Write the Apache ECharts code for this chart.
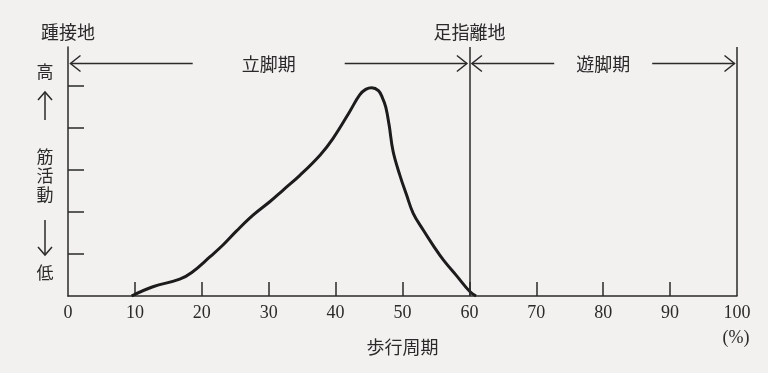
<!DOCTYPE html>
<html>
<head>
<meta charset="utf-8">
<script src="https://cdn.jsdelivr.net/npm/echarts@6/dist/echarts.min.js"></script>
<style>
html,body{margin:0;padding:0;background:#f2f1ef;}
#chart{width:768px;height:373px;}
</style>
</head>
<body>
<div id="chart"></div>
<script>
// ---- data ----
const xTickLabels = [0, 10, 20, 30, 40, 50, 60, 70, 80, 90, 100];
const xTickMarks = [10, 20, 30, 40, 50, 60, 70, 80, 90];
const yTickMarks = [1, 2, 3, 4, 5];
const cycleX = [9.5, 12.7, 16.7, 18.5, 21.2, 23.2, 25.2, 27.7, 30.2, 32.2, 34.7, 37.7, 39.6, 42.1, 43.6, 44.5, 45.4, 46.4, 47.0, 47.5, 48.0, 48.6, 49.6, 50.6, 51.6, 53.1, 54.6, 56.1, 58.1, 60.1, 61.0];
const activity = [0, 0.22, 0.4, 0.56, 0.93, 1.22, 1.55, 1.93, 2.25, 2.53, 2.88, 3.36, 3.75, 4.39, 4.79, 4.92, 4.96, 4.89, 4.72, 4.5, 4.07, 3.44, 2.88, 2.41, 1.97, 1.57, 1.2, 0.86, 0.48, 0.1, 0];
const phaseNames = ['立脚期', '遊脚期'];
const phaseStart = [0, 60];
const phaseEnd = [60, 100];
const eventNames = ['踵接地', '足指離地'];
const eventX = [0, 60];
const boundaries = [60, 100];

// ---- style ----
const INK = '#2a2a2a';
const CJK = '"Noto Sans CJK JP", sans-serif';
const NUM = '"Liberation Serif", "DejaVu Serif", serif';
const phaseGapHalf = [76, 49];

const chart = echarts.init(document.getElementById('chart'));

function chevron(x, y, dir, size) {
  return {
    type: 'polyline',
    shape: { points: [[x - dir * size, y - size * 0.8], [x, y], [x - dir * size, y + size * 0.8]] },
    style: { stroke: INK, lineWidth: 1.5, fill: null }
  };
}

const option = {
  backgroundColor: '#f2f1ef',
  animation: false,
  grid: { left: 68, right: 31, top: 47, bottom: 77 },
  xAxis: {
    type: 'value', min: 0, max: 100, interval: 10,
    name: '歩行周期', nameLocation: 'middle', nameGap: 42,
    nameTextStyle: { fontFamily: CJK, fontSize: 18, color: INK },
    axisLine: { show: true, lineStyle: { color: INK, width: 1.5 } },
    axisTick: { show: true, inside: true, length: 14, customValues: xTickMarks, lineStyle: { color: INK, width: 1.5 } },
    axisLabel: { customValues: xTickLabels, fontFamily: NUM, fontSize: 18, color: INK, margin: 8 },
    splitLine: { show: false }
  },
  yAxis: {
    type: 'value', min: 0, max: 5.93,
    axisLine: { show: true, lineStyle: { color: INK, width: 1.5 } },
    axisTick: { show: true, inside: true, length: 16, customValues: yTickMarks, lineStyle: { color: INK, width: 1.5 } },
    axisLabel: { show: false },
    splitLine: { show: false }
  },
  graphic: [
    { type: 'text', x: 45, y: 72, style: { text: '高', font: '17px ' + CJK, fill: INK, align: 'center', verticalAlign: 'middle' } },
    { type: 'line', shape: { x1: 45, y1: 92, x2: 45, y2: 120 }, style: { stroke: INK, lineWidth: 1.5 } },
    { type: 'polyline', shape: { points: [[38, 100], [45, 92], [52, 100]] }, style: { stroke: INK, lineWidth: 1.5, fill: null } },
    { type: 'text', x: 45, y: 157, style: { text: '筋', font: '17px ' + CJK, fill: INK, align: 'center', verticalAlign: 'middle' } },
    { type: 'text', x: 45, y: 176, style: { text: '活', font: '17px ' + CJK, fill: INK, align: 'center', verticalAlign: 'middle' } },
    { type: 'text', x: 45, y: 195, style: { text: '動', font: '17px ' + CJK, fill: INK, align: 'center', verticalAlign: 'middle' } },
    { type: 'line', shape: { x1: 45, y1: 220, x2: 45, y2: 255 }, style: { stroke: INK, lineWidth: 1.5 } },
    { type: 'polyline', shape: { points: [[38, 247], [45, 255], [52, 247]] }, style: { stroke: INK, lineWidth: 1.5, fill: null } },
    { type: 'text', x: 45, y: 273, style: { text: '低', font: '17px ' + CJK, fill: INK, align: 'center', verticalAlign: 'middle' } },
    { type: 'text', x: 736, y: 338, style: { text: '(%)', font: '18px ' + NUM, fill: INK, align: 'center', verticalAlign: 'middle' } }
  ],
  series: [
    {
      type: 'line',
      data: cycleX.map((x, i) => [x, activity[i]]),
      symbol: 'none', smooth: 0.4,
      lineStyle: { color: '#1c1c1c', width: 3 },
      markLine: {
        silent: true, symbol: 'none', animation: false,
        label: { show: false },
        lineStyle: { color: INK, width: 1.5, type: 'solid' },
        data: boundaries.map(v => ({ xAxis: v }))
      },
      z: 3
    },
    {
      type: 'custom',
      data: phaseNames.map((n, i) => [phaseStart[i], phaseEnd[i], i]),
      renderItem: function (params, api) {
        const i = api.value(2);
        const a = api.coord([api.value(0), 0]);
        const b = api.coord([api.value(1), 0]);
        const y = params.coordSys.y + 16.5;
        const x0 = a[0] + 2.5, x1 = b[0] - 2.5;
        const cx = (a[0] + b[0]) / 2;
        const g = phaseGapHalf[i];
        return {
          type: 'group',
          children: [
            { type: 'line', shape: { x1: x0, y1: y, x2: cx - g, y2: y }, style: { stroke: INK, lineWidth: 1.5 } },
            { type: 'line', shape: { x1: cx + g, y1: y, x2: x1, y2: y }, style: { stroke: INK, lineWidth: 1.5 } },
            chevron(x0, y, -1, 10),
            chevron(x1, y, 1, 10),
            { type: 'text', style: { x: cx, y: y + 1, text: phaseNames[i], font: '18px ' + CJK, fill: INK, align: 'center', verticalAlign: 'middle' } }
          ]
        };
      },
      z: 4
    },
    {
      type: 'custom',
      data: eventNames.map((n, i) => [eventX[i], i]),
      clip: false,
      renderItem: function (params, api) {
        const i = api.value(1);
        const p = api.coord([api.value(0), 0]);
        return {
          type: 'text',
          style: { x: p[0], y: params.coordSys.y - 15, text: eventNames[i], font: '18px ' + CJK, fill: INK, align: 'center', verticalAlign: 'middle' }
        };
      },
      z: 4
    }
  ]
};
chart.setOption(option);
</script>
</body>
</html>
